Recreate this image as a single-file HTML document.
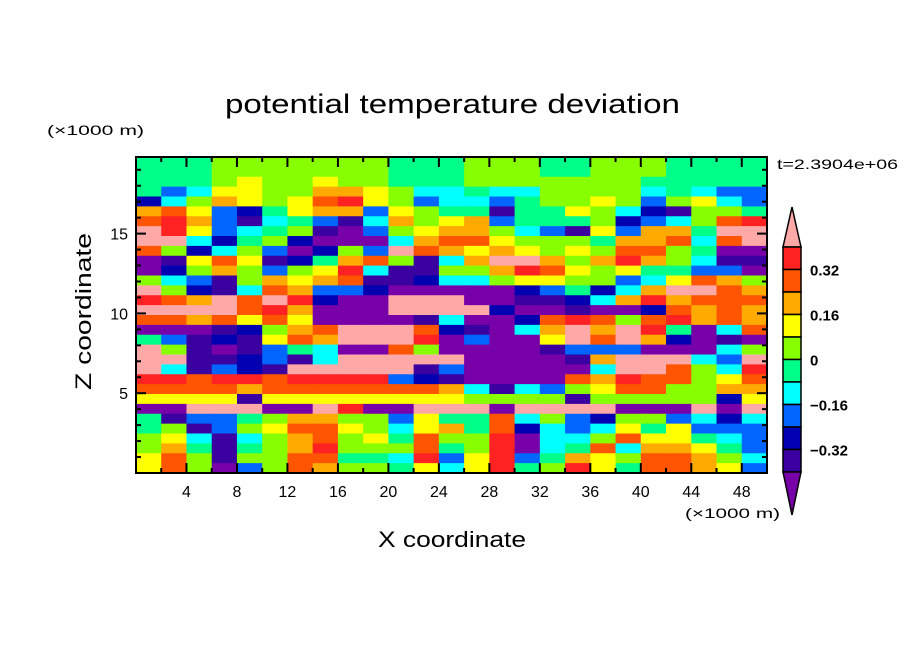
<!DOCTYPE html>
<html><head><meta charset="utf-8"><style>
html,body{margin:0;padding:0;background:#fff;}
svg{display:block;font-family:"Liberation Sans",sans-serif;}
</style></head><body>
<svg id="chart" width="904" height="654" viewBox="0 0 904 654">
<text x="225" y="113" font-size="27" textLength="455" lengthAdjust="spacingAndGlyphs">potential temperature deviation</text>
<text x="47" y="135" font-size="14" textLength="97" lengthAdjust="spacingAndGlyphs">(×1000 m)</text>
<text x="777" y="169" font-size="14" textLength="121" lengthAdjust="spacingAndGlyphs">t=2.3904e+06</text>
<text x="0" y="0" font-size="22" textLength="157" lengthAdjust="spacingAndGlyphs" transform="translate(91,390) rotate(-90)">Z coordinate</text>
<text x="378" y="547" font-size="22" textLength="148" lengthAdjust="spacingAndGlyphs">X coordinate</text>
<text x="685" y="518" font-size="14" textLength="95" lengthAdjust="spacingAndGlyphs">(×1000 m)</text>
<g id="field"></g>
<g id="axes"></g>
<g id="cbar"></g>
</svg>
<script>
// level index per cell: 0 (< -0.40) ... b (> 0.40); rows from top (z high) to bottom
const fieldRows = [
"5556666666555666556665555",
"5556666666555666556665555",
"5556766766555666666655555",
"5347766887644544666645433",
"24687679a7634435667636743",
"8973257883765515576421665",
"9a8314531486783555623469a",
"ba734561036788643173885bb",
"bb4256200048997666588949b",
"9624630263b98787676996500",
"01797125896148bb868a86411",
"02686367a411668a976755330",
"6431687891124467766347986",
"b62149833200000235248bb98",
"a98b9ba200bbb0011248a8999",
"bbbb9a8000bbbb20010029898",
"99897970000140029a969a898",
"00012689bbb921048b8ba5049",
"53121798bbba03007b9b82010",
"b610135400960000133300046",
"bb112314bbbbb000018bbb43b",
"b41321bbbbb13000004bb964a",
"aa9aa9aaaa321000098a99679",
"9999899999998414367996688",
"7777177777777666616666627",
"00bbb00ba00bbb0bbbb000b0b",
"5133568866375594632663424",
"5613679976478592434757333",
"67414689675966a0446977543",
"6851568a666956a0459488753",
"79616699554a37a3587699864",
"79603698665747a56a7599873"
];
const levelColors = ["#7800a8","#3a00a0","#0000b0","#0066ff","#00ffff","#00ff88","#88ff00","#ffff00","#ffaa00","#ff5500","#ff2222","#ffa8a8"];
const levelLabels = ["0.32","0.16","0","\u22120.16","\u22120.32"];
const xTicks = [4,8,12,16,20,24,28,32,36,40,44,48];
const yTicks = [5,10,15];

const NS="http://www.w3.org/2000/svg";
const X0=136,X1=767,Y0=473,Y1=157,XMAX=50,ZMAX=19.8;
function sx(v){return X0+(X1-X0)*v/XMAX;}
function sy(v){return Y0-(Y0-Y1)*v/ZMAX;}
function mk(tag,attrs,parent){const e=document.createElementNS(NS,tag);for(const k in attrs)e.setAttribute(k,attrs[k]);parent.appendChild(e);return e;}
const fieldG=document.getElementById('field');
const nr=fieldRows.length,nc=25;
const dx=XMAX/nc,dz=ZMAX/nr;
for(let r=0;r<nr;r++){for(let c=0;c<nc;c++){
  const ch=fieldRows[r][c]||'5';
  const lv=parseInt(ch,16)||0;
  const zt=ZMAX-r*dz;
  const e=mk('rect',{x:sx(c*dx).toFixed(2),y:sy(zt).toFixed(2),width:(sx((c+1)*dx)-sx(c*dx)+0.6).toFixed(2),height:(sy(zt-dz)-sy(zt)+0.6).toFixed(2),fill:levelColors[lv]},fieldG);
  
  
}}
const axesG=document.getElementById('axes');
const fr=mk('rect',{x:X0,y:Y1,width:X1-X0,height:Y0-Y1,fill:'none',stroke:'#000','stroke-width':2},axesG);


for(let v=2;v<XMAX;v+=2){
  const major=v%4===0,len=major?10:5;
  mk('line',{x1:sx(v),x2:sx(v),y1:Y0,y2:Y0-len,stroke:'#000','stroke-width':2},axesG);
  mk('line',{x1:sx(v),x2:sx(v),y1:Y1,y2:Y1+len,stroke:'#000','stroke-width':2},axesG);
}
for(let v=1;v<ZMAX;v+=1){
  const major=v%5===0,len=major?10:5;
  mk('line',{x1:X0,x2:X0+len,y1:sy(v),y2:sy(v),stroke:'#000','stroke-width':2},axesG);
  mk('line',{x1:X1,x2:X1-len,y1:sy(v),y2:sy(v),stroke:'#000','stroke-width':2},axesG);
}
xTicks.forEach(v=>{const t=mk('text',{x:sx(v),y:Y0+24,'font-size':16,'text-anchor':'middle'},axesG);t.textContent=String(v);
  
  });
yTicks.forEach(v=>{const t=mk('text',{x:X0-8,y:sy(v)+6,'font-size':16,'text-anchor':'end'},axesG);t.textContent=String(v);
  
  });
// colorbar
const cbG=document.getElementById('cbar');
const CX=783,CW=18,CT=247,CBT=472,nb=10,bh=(CBT-CT)/nb;
const triTop=mk('polygon',{points:`${CX},${CT} ${CX+CW/2},207 ${CX+CW},${CT}`,fill:levelColors[11],stroke:'#000','stroke-width':1.5},cbG);


for(let i=0;i<nb;i++){
  const b=mk('rect',{x:CX,y:CT+i*bh,width:CW,height:bh,fill:levelColors[10-i],stroke:'#000','stroke-width':1.5},cbG);
  
  
}
const triBot=mk('polygon',{points:`${CX},${CBT} ${CX+CW/2},515 ${CX+CW},${CBT}`,fill:levelColors[0],stroke:'#000','stroke-width':1.5},cbG);


levelLabels.forEach((s,i)=>{const t=mk('text',{x:810,y:CT+bh*(1+2*i)+6,'font-size':15,'font-weight':'bold'},cbG);t.textContent=s;
  
  });
</script>
</body></html>
